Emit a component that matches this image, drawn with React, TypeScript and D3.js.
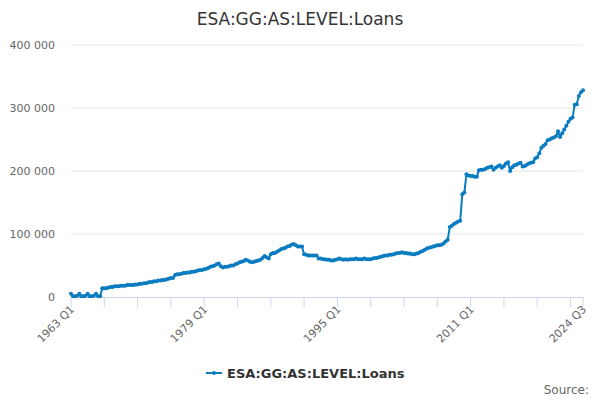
import React from "react";
import * as d3 from "d3";

const title = "ESA:GG:AS:LEVEL:Loans";
const startYear = 1963;

// quarterly values (thousands), one row per year
const loans1963to1979 = [
  5, 1, 1, 2, 5, 1, 1, 2, 5, 1, 1, 2, 5, 1, 1, 14,
  14, 14, 15, 16, 16, 17, 17, 17, 18, 18, 18, 19, 19, 19, 19, 20,
  20, 21, 21, 22, 22, 23, 24, 24, 25, 25, 26, 26, 27, 27, 28, 29,
  30, 30, 35, 36, 36, 37, 38, 38, 39, 39, 40, 40, 41, 42, 43, 43,
];
const loans1979to1995 = [
  44, 45, 46, 48, 49, 50, 52, 53, 49, 47, 48, 48, 49, 50, 50, 52,
  53, 55, 56, 57, 59, 58, 56, 55, 56, 57, 58, 59, 62, 65, 63, 61,
  68, 70, 70, 72, 74, 76, 77, 78, 80, 81, 83, 84, 82, 80, 80, 80,
  68, 67, 66, 66, 66, 66, 66, 61, 61, 60, 60, 59, 59, 58, 58, 59,
];
const loans1995to2011 = [
  60, 61, 60, 59, 60, 59, 60, 60, 60, 61, 60, 60, 60, 61, 60, 60,
  60, 61, 62, 62, 63, 64, 65, 66, 66, 67, 67, 68, 69, 70, 70, 71,
  70, 70, 69, 69, 68, 68, 69, 70, 72, 73, 75, 77, 78, 79, 80, 81,
  82, 82, 83, 85, 88, 91, 111, 113, 116, 118, 120, 121, 163, 166, 195, 193,
];
const loans2011to2024 = [
  192, 192, 191, 191, 201, 202, 202, 203, 205, 206, 207, 202, 205, 207, 209, 205,
  208, 212, 214, 200, 206, 209, 210, 212, 213, 207, 208, 210, 212, 213, 214, 220,
  222, 228, 237, 240, 243, 249, 250, 252, 253, 255, 263, 254, 260, 266, 272, 278,
  283, 285, 305, 306, 319, 325, 328,
];

const yTicks = [0, 100000, 200000, 300000, 400000];
const labelQuarters = [0, 64, 128, 192, 246];

const values = [...loans1963to1979, ...loans1979to1995, ...loans1995to2011, ...loans2011to2024].map(
  (v) => v * 1000
);
const quarterLabel = (i: number) => `${startYear + Math.floor(i / 4)} Q${(i % 4) + 1}`;

const color = "#0a7cc1";
const font = "DejaVu Sans, sans-serif";

export default function App() {
  const width = 600;
  const height = 400;
  const last = values.length - 1;
  const x = d3.scaleLinear().domain([0, last]).range([71, 583]);
  const y = d3.scaleLinear().domain([0, 400000]).range([297, 45]);
  const line = d3
    .line<number>()
    .x((_, i) => x(i))
    .y((d) => y(d));
  const fmt = (v: number) => d3.format(",")(v).replace(/,/g, " ");
  const tickQuarters = d3.range(0, last, 16).concat([last]);

  return (
    <svg width={width} height={height} style={{ position: "absolute", left: 0, top: 0, fontFamily: font }}>
      <rect width={width} height={height} fill="#fff" />
      <text x={300} y={25} textAnchor="middle" fontSize={17} fill="#333">
        {title}
      </text>

      {yTicks.map((t) => (
        <g key={t}>
          {t > 0 && <line x1={71} x2={583} y1={y(t)} y2={y(t)} stroke="#e6e6e6" />}
          <text x={55} y={y(t) + 4} textAnchor="end" fontSize={11} fill="#666">
            {fmt(t)}
          </text>
        </g>
      ))}

      <line x1={71} x2={583} y1={297.5} y2={297.5} stroke="#ccd6eb" />
      {tickQuarters.map((q) => (
        <line key={q} x1={x(q)} x2={x(q)} y1={297} y2={307} stroke="#ccd6eb" />
      ))}
      {labelQuarters.map((q) => (
        <text
          key={q}
          transform={`translate(${x(q) + 4},${310}) rotate(-45)`}
          textAnchor="end"
          fontSize={11}
          fill="#666"
        >
          {quarterLabel(q)}
        </text>
      ))}

      <path d={line(values) ?? ""} fill="none" stroke={color} strokeWidth={2} strokeLinejoin="round" />
      {values.map((v, i) => (
        <circle key={i} cx={x(i)} cy={y(v)} r={2} fill={color} />
      ))}

      <line x1={206} x2={222} y1={373} y2={373} stroke={color} strokeWidth={2} />
      <circle cx={214} cy={373} r={2} fill={color} />
      <text x={227} y={378} fontSize={13} fontWeight="bold" fill="#333">
        {title}
      </text>

      <text x={589} y={394} textAnchor="end" fontSize={12} fill="#666">
        Source:
      </text>
    </svg>
  );
}
